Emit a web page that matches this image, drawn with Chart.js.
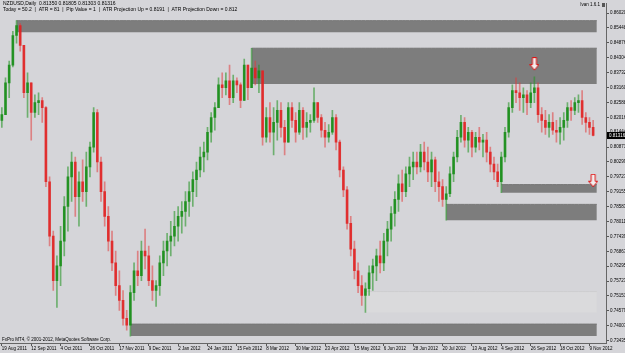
<!DOCTYPE html>
<html>
<head>
<meta charset="utf-8">
<script src="https://cdn.jsdelivr.net/npm/chart.js@4.4.1/dist/chart.umd.min.js"></script>
<style>
  html, body { margin: 0; padding: 0; background: #d5d5d9; }
  #wrap { width: 625px; height: 353px; }
</style>
</head>
<body>
<div id="wrap"><canvas id="chart"></canvas></div>
<script>
// NZDUSD daily, one candle per two sessions
var firstOpen = 0.8190;
var highs = [
  0.8239,0.8353,0.8418,0.8532,0.8573,0.8562,0.8478,0.8372,0.8334,0.8288,
  0.8296,0.8277,0.8243,0.7973,0.7764,0.7669,0.7783,0.7897,0.8011,0.8068,
  0.8049,0.7992,0.8038,0.8068,0.8106,0.8239,0.8231,0.8049,0.7954,0.7859,
  0.7764,0.7688,0.7612,0.7536,0.7460,0.7555,0.7642,0.7688,0.7726,0.7772,
  0.7707,0.7631,0.7574,0.7669,0.7726,0.7756,0.7802,0.7840,0.7859,0.7878,
  0.7916,0.7954,0.7992,0.8030,0.8087,0.8106,0.8163,0.8220,0.8258,0.8353,
  0.8372,0.8372,0.8402,0.8364,0.8353,0.8334,0.8425,0.8402,0.8467,0.8418,
  0.8402,0.8380,0.8239,0.8258,0.8239,0.8266,0.8258,0.8190,0.8258,0.8258,
  0.8220,0.8258,0.8239,0.8220,0.8212,0.8315,0.8258,0.8212,0.8182,0.8174,
  0.8228,0.8212,0.8114,0.8011,0.7935,0.7821,0.7726,0.7642,0.7593,0.7566,
  0.7631,0.7657,0.7695,0.7726,0.7756,0.7802,0.7859,0.7916,0.7981,0.7999,
  0.8011,0.8049,0.8068,0.8068,0.8098,0.8106,0.8087,0.8068,0.8049,0.7992,
  0.7962,0.7935,0.8011,0.8068,0.8152,0.8209,0.8201,0.8163,0.8152,0.8144,
  0.8163,0.8136,0.8144,0.8087,0.8049,0.8022,0.8068,0.8163,0.8258,0.8326,
  0.8353,0.8334,0.8315,0.8304,0.8334,0.8357,0.8334,0.8239,0.8228,0.8212,
  0.8220,0.8190,0.8201,0.8220,0.8258,0.8266,0.8277,0.8288,0.8304,0.8220,
  0.8201,0.8190
];
var lows = [
  0.8163,0.8212,0.8277,0.8395,0.8486,0.8456,0.8277,0.8201,0.8114,0.8201,
  0.8212,0.8182,0.7935,0.7707,0.7536,0.7471,0.7555,0.7669,0.7764,0.7878,
  0.7821,0.7783,0.7878,0.7859,0.7973,0.8068,0.7992,0.7878,0.7783,0.7688,
  0.7612,0.7517,0.7460,0.7403,0.7384,0.7361,0.7498,0.7555,0.7574,0.7619,
  0.7555,0.7498,0.7475,0.7517,0.7593,0.7631,0.7669,0.7707,0.7726,0.7756,
  0.7783,0.7821,0.7859,0.7897,0.7973,0.7992,0.8038,0.8106,0.8152,0.8239,
  0.8277,0.8288,0.8250,0.8258,0.8296,0.8239,0.8266,0.8269,0.8315,0.8326,
  0.8296,0.8095,0.8106,0.8106,0.8057,0.8114,0.8125,0.8057,0.8106,0.8163,
  0.8106,0.8136,0.8117,0.8125,0.8144,0.8182,0.8182,0.8125,0.8087,0.8106,
  0.8136,0.8076,0.7973,0.7897,0.7772,0.7669,0.7581,0.7528,0.7479,0.7452,
  0.7517,0.7536,0.7574,0.7604,0.7612,0.7669,0.7726,0.7783,0.7840,0.7878,
  0.7897,0.7935,0.7962,0.7984,0.7992,0.7999,0.7954,0.7935,0.7916,0.7878,
  0.7859,0.7806,0.7897,0.7954,0.8030,0.8106,0.8087,0.8068,0.8049,0.8068,
  0.8076,0.8049,0.8030,0.7992,0.7962,0.7935,0.7912,0.8030,0.8125,0.8220,
  0.8258,0.8228,0.8220,0.8212,0.8239,0.8258,0.8182,0.8144,0.8136,0.8125,
  0.8136,0.8106,0.8098,0.8114,0.8163,0.8190,0.8212,0.8220,0.8174,0.8144,
  0.8136,0.8130
];
var closes = [
  0.8212,0.8334,0.8402,0.8516,0.8554,0.8478,0.8296,0.8334,0.8220,0.8258,
  0.8266,0.8239,0.7954,0.7745,0.7574,0.7631,0.7726,0.7859,0.7973,0.8030,
  0.7897,0.7954,0.7916,0.8011,0.8087,0.8220,0.8030,0.7916,0.7821,0.7726,
  0.7642,0.7555,0.7498,0.7429,0.7403,0.7528,0.7612,0.7593,0.7688,0.7669,
  0.7574,0.7536,0.7555,0.7642,0.7688,0.7726,0.7745,0.7783,0.7821,0.7840,
  0.7878,0.7916,0.7962,0.7999,0.8049,0.8068,0.8144,0.8201,0.8239,0.8326,
  0.8315,0.8342,0.8277,0.8342,0.8326,0.8266,0.8402,0.8315,0.8391,0.8353,
  0.8380,0.8125,0.8201,0.8144,0.8182,0.8228,0.8163,0.8106,0.8239,0.8190,
  0.8144,0.8228,0.8163,0.8182,0.8190,0.8258,0.8201,0.8152,0.8125,0.8144,
  0.8201,0.8106,0.7999,0.7923,0.7794,0.7695,0.7612,0.7555,0.7517,0.7543,
  0.7604,0.7631,0.7669,0.7642,0.7726,0.7772,0.7832,0.7886,0.7946,0.7916,
  0.7984,0.8011,0.8030,0.8011,0.8068,0.8030,0.7992,0.8038,0.7954,0.7935,
  0.7886,0.7908,0.7984,0.8049,0.8125,0.8182,0.8114,0.8144,0.8087,0.8125,
  0.8106,0.8114,0.8068,0.8022,0.7992,0.7954,0.8049,0.8144,0.8239,0.8304,
  0.8296,0.8277,0.8288,0.8258,0.8296,0.8315,0.8212,0.8190,0.8163,0.8182,
  0.8152,0.8144,0.8163,0.8190,0.8239,0.8228,0.8258,0.8266,0.8201,0.8182,
  0.8163,0.81316
];

var dateTicks = ['19 Aug 2011','12 Sep 2011','4 Oct 2011','26 Oct 2011','17 Nov 2011','9 Dec 2011',
  '2 Jan 2012','24 Jan 2012','15 Feb 2012','8 Mar 2012','30 Mar 2012','23 Apr 2012','15 May 2012',
  '6 Jun 2012','28 Jun 2012','20 Jul 2012','13 Aug 2012','4 Sep 2012','26 Sep 2012','18 Oct 2012','9 Nov 2012'];
var barsPerTick = 8;
var slotCount = 165;   // chart keeps some empty room on the right

var priceTicks = [0.86020,0.85448,0.84876,0.84304,0.83732,0.83160,0.82588,0.82016,0.81444,0.80871,
  0.80299,0.79727,0.79155,0.78583,0.78011,0.77439,0.76867,0.76295,0.75723,0.75151,0.74579,0.74007,0.73435];

// supply / demand boxes
var zoneStart  = [4, 68, 136, 121, 99, 35];
var zoneTop    = [0.8573, 0.8467, 0.7943, 0.7867, 0.7532, 0.7407];
var zoneBottom = [0.8528, 0.8330, 0.7912, 0.7806, 0.7452, 0.7361];
var zoneEnd = 162;

var arrowIdx   = [145, 161];
var arrowPrice = [0.8406, 0.7958];

var header1 = 'NZDUSD,Daily  0.81350 0.81805 0.81303 0.81316';
var header2 = 'Today = 50.2  |  ATR = 81  |  Pip Value = 1  |  ATR Projection Up = 0.8191  |  ATR Projection Down = 0.812';
var copyright = 'FxPro MT4, \u00a9 2001-2012, MetaQuotes Software Corp.';

var FONT = '"Liberation Sans", Arial, sans-serif';
var TXT = 4.5;

var opens = closes.map(function (c, i) { return i ? closes[i - 1] : firstOpen; });
var isUp = closes.map(function (c, i) { return c >= opens[i]; });
var labels = [];
for (var i = 0; i < slotCount; i++) labels.push(String(i));

// hollow down arrow used as point style
function makeArrow() {
    var c = document.createElement('canvas');
    c.width = 10; c.height = 14;
    var g = c.getContext('2d');
    g.beginPath();
    g.moveTo(3, 0.5); g.lineTo(7, 0.5); g.lineTo(7, 7.5); g.lineTo(9.5, 7.5);
    g.lineTo(5, 13); g.lineTo(0.5, 7.5); g.lineTo(3, 7.5); g.closePath();
    g.fillStyle = '#f0f0f0';
    g.fill();
    g.strokeStyle = '#e01010';
    g.lineWidth = 1;
    g.stroke();
    return c;
}
var arrowImg = makeArrow();

var datasets = [];

zoneStart.forEach(function (s, k) {
    var d = [];
    for (var i = 0; i <= zoneEnd; i++) d.push(i >= s ? zoneTop[k] : null);
    var light = k === 4;
    datasets.push({
        type: 'line',
        data: d,
        borderColor: light ? '#cdcdcf' : '#777777',
        borderWidth: 1,
        backgroundColor: light ? '#dadadc' : '#7d7d7d',
        pointRadius: 0,
        pointHoverRadius: 0,
        fill: { value: zoneBottom[k] },
        order: 10
    });
});

datasets.push({
    type: 'bar',
    data: highs.map(function (h, i) { return [lows[i], h]; }),
    backgroundColor: isUp.map(function (u) { return u ? 'rgba(40,150,40,0.6)' : 'rgba(225,60,60,0.55)'; }),
    barThickness: 1,
    grouped: false,
    order: 3
});
datasets.push({
    type: 'bar',
    data: closes.map(function (c, i) { return [opens[i], c]; }),
    backgroundColor: isUp.map(function (u) { return u ? 'rgba(20,140,20,0.85)' : 'rgba(225,30,30,0.85)'; }),
    barThickness: 2,
    minBarLength: 1,
    grouped: false,
    order: 2
});

var arrowData = [];
for (var i = 0; i <= zoneEnd; i++) arrowData.push(null);
arrowIdx.forEach(function (ix, k) { arrowData[ix] = arrowPrice[k]; });
datasets.push({
    type: 'line',
    data: arrowData,
    showLine: false,
    pointStyle: arrowImg,
    pointRadius: 6,
    pointHoverRadius: 6,
    order: 0
});

var overlay = {
    id: 'overlay',
    beforeDraw: function (chart) {
        var ctx = chart.ctx;
        ctx.save();
        ctx.fillStyle = '#d5d5d9';
        ctx.fillRect(0, 0, chart.width, chart.height);
        ctx.restore();
    },
    afterDraw: function (chart) {
        var ctx = chart.ctx, ys = chart.scales.y;
        ctx.save();
        ctx.fillStyle = '#000';
        ctx.font = '5px ' + FONT;
        ctx.textBaseline = 'top';
        ctx.textAlign = 'left';
        ctx.fillText(header1, 3, 1.5);
        ctx.fillText(header2, 3, 7);
        ctx.font = TXT + 'px ' + FONT;
        ctx.textAlign = 'right';
        ctx.fillText('Ivan 1.6.1', 600, 3);
        ctx.fillStyle = '#555';
        ctx.fillRect(602, 3, 3, 4);
        ctx.fillStyle = '#000';
        ctx.textAlign = 'left';
        ctx.textBaseline = 'bottom';
        ctx.fillText(copyright, 2, 342);
        // current price box
        var last = closes[closes.length - 1];
        var py = ys.getPixelForValue(last);
        ctx.fillRect(ys.left + 1, py - 3.5, 30, 7);
        ctx.fillStyle = '#fff';
        ctx.textBaseline = 'middle';
        ctx.fillText(last.toFixed(5), ys.left + 3, py);
        ctx.restore();
    }
};

new Chart(document.getElementById('chart'), {
    type: 'bar',
    data: { labels: labels, datasets: datasets },
    options: {
        responsive: true,
        maintainAspectRatio: false,
        animation: false,
        layout: { padding: 0, autoPadding: false },
        plugins: { legend: { display: false }, tooltip: { enabled: false } },
        scales: {
            x: {
                type: 'category',
                offset: true,
                grid: { drawOnChartArea: false, offset: false, tickLength: 3, color: '#555' },
                border: { display: true, color: '#666' },
                afterBuildTicks: function (s) {
                    s.ticks = s.ticks.filter(function (t) {
                        return t.value % barsPerTick === 0 && t.value / barsPerTick < dateTicks.length;
                    });
                },
                ticks: {
                    autoSkip: false,
                    maxRotation: 0,
                    align: 'start',
                    padding: 0,
                    color: '#000',
                    font: { size: TXT, family: FONT },
                    callback: function (v) { return dateTicks[v / barsPerTick]; }
                },
                afterFit: function (s) { s.height = 10; }
            },
            y: {
                position: 'right',
                min: 0.73344,
                max: 0.86381,
                grid: { drawOnChartArea: false, tickLength: 3, color: '#555' },
                border: { display: true, color: '#666' },
                afterBuildTicks: function (s) {
                    s.ticks = priceTicks.map(function (v) { return { value: v }; });
                },
                ticks: {
                    autoSkip: false,
                    padding: 1,
                    color: '#000',
                    font: { size: TXT, family: FONT },
                    callback: function (v) { return v.toFixed(5); }
                },
                afterFit: function (s) { s.width = 19; }
            }
        }
    },
    plugins: [overlay]
});
</script>
</body>
</html>
